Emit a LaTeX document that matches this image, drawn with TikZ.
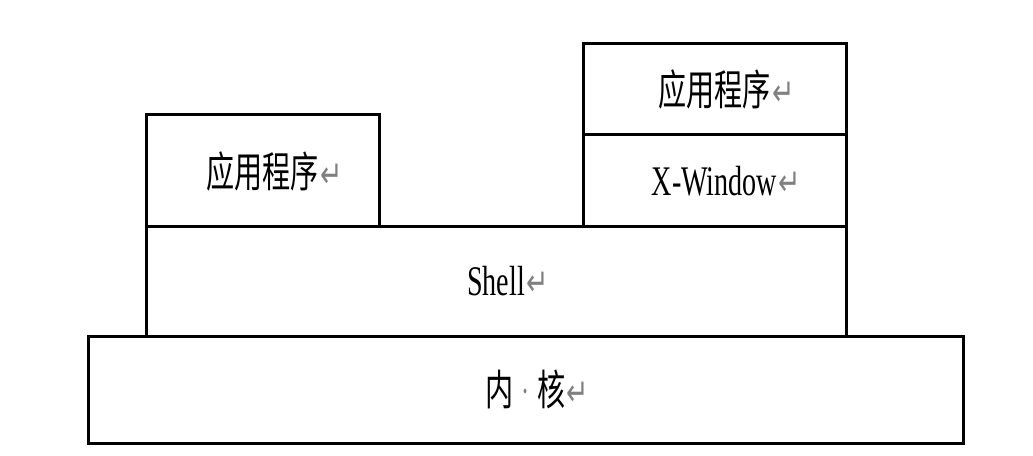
\documentclass[tikz,border=0pt]{standalone}
\usepackage{fontspec}
\setmainfont{Liberation Serif}
\newfontfamily\cjk{Noto Sans CJK SC}
\newfontfamily\symb{DejaVu Sans}
\usetikzlibrary{positioning}

\def\px{0.25mm}
\newcommand{\parmark}{\rlap{\hspace{1pt}\scalebox{1}[1.4]{\symb\fontsize{19}{19}\selectfont\color{gray}↵}}}
\newcommand{\lbl}[1]{\scalebox{1}[1.5]{#1}\parmark}
\tikzset{layer/.style={draw, line width=3*\px, inner sep=0pt, outer sep=0pt, font=\fontsize{20}{24}\selectfont}}

\begin{document}
\begin{tikzpicture}[x=\px, y=-\px]
\useasboundingbox (0,0) rectangle (1033,456);
\node[layer, minimum width=875*\px, minimum height=107*\px] (kernel) at (525.5,389.5) {\lbl{\cjk 内\,\raisebox{3pt}{\textcolor{gray}{\fontsize{10}{10}\selectfont·}}\,核}};
\node[layer, minimum width=700*\px, minimum height=109*\px] (shell) at (496,281.5) {\lbl{Shell}};
\node[layer, minimum width=233*\px, minimum height=112*\px, above right=0pt of shell.north west] (app1) {\lbl{\cjk 应用程序}};
\node[layer, minimum width=263*\px, minimum height=92*\px, above left=0pt of shell.north east] (xwin) {\lbl{X-Window}};
\node[layer, minimum width=263*\px, minimum height=91*\px, above=0pt of xwin] (app2) {\lbl{\cjk 应用程序}};
\end{tikzpicture}
\end{document}
